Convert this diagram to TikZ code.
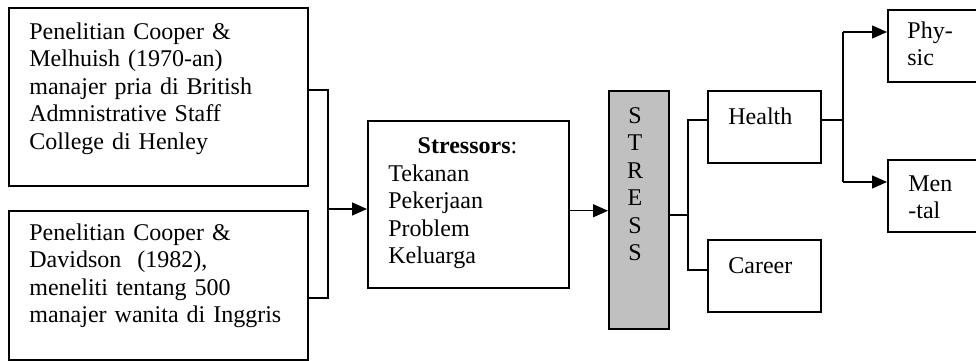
\documentclass[tikz,border=0pt]{standalone}
\usepackage{fontspec}
\setmainfont{Liberation Serif}
\usetikzlibrary{arrows.meta}
\definecolor{stressgray}{RGB}{192,192,192}

\begin{document}
\begin{tikzpicture}[x=0.5pt,y=-0.5pt,
  box/.style={draw,line width=0.75pt,anchor=north west,inner sep=0pt},
  txt/.style={anchor=base west,inner sep=0pt,align=left,font=\fontsize{12}{13.75}\selectfont},
  link/.style={line width=0.7pt},
  arr/.style={link,-{Triangle[length=7.5pt,width=6.5pt]}}]
\path[use as bounding box,clip] (0,0) rectangle (976,360);

\node[box,minimum width=149.5pt,minimum height=89pt] (melhuish) at (8,7) {};
\node[box,minimum width=149.5pt,minimum height=74.5pt] (davidson) at (8,210) {};
\node[box,minimum width=100.5pt,minimum height=83.5pt] (stressors) at (367,120) {};
\node[box,fill=stressgray,minimum width=30pt,minimum height=119pt] (stress) at (608,90) {};
\node[box,minimum width=56.5pt,minimum height=36pt] (health) at (707,90) {};
\node[box,minimum width=56.5pt,minimum height=36pt] (career) at (707,239) {};
\node[box,minimum width=51.5pt,minimum height=36pt] (physic) at (887,9) {};
\node[box,minimum width=51.5pt,minimum height=36pt] (mental) at (887,159) {};

\node[txt,text width=135pt] (melhuishtext) at (29,39) {Penelitian Cooper \&\\ Melhuish (1970-an)\\ manajer pria di British\\ Admnistrative Staff\\ College di Henley};
\node[txt,text width=135pt] (davidsontext) at (29,240) {Penelitian Cooper \&\\ Davidson\ \ (1982),\\ meneliti tentang 500\\ manajer wanita di Inggris};
\node[txt,anchor=base] (stressorshead) at (467.5,153) {\textbf{Stressors}:};
\node[txt,text width=80pt] (stressorslist) at (388,181) {Tekanan\\ Pekerjaan\\ Problem\\ Keluarga};
\node[txt,anchor=base,align=center,text width=12pt] (stresstext) at (635,123) {S\\ T\\ R\\ E\\ S\\ S};
\node[txt] (healthtext) at (728,124) {Health};
\node[txt] (careertext) at (728,273) {Career};
\node[txt,text width=40pt] (physictext) at (907,38) {Phy-\\ sic};
\node[txt,text width=40pt] (mentaltext) at (908,191) {Men\\ -tal};

\coordinate (joinA) at (328,90);
\coordinate (joinB) at (328,298);
\coordinate (joinM) at (328,209);
\draw[link] (joinA -| melhuish.east) -- (joinA) -- (joinB) -- (joinB -| davidson.east);
\draw[arr] (joinM) -- (joinM -| stressors.west);
\draw[arr] ([yshift=-3.25pt]stressors.east) -- ([yshift=-3.25pt]stressors.east -| stress.west);

\coordinate (forkS) at (688,215);
\coordinate (forkH) at (688,120);
\coordinate (forkC) at (688,270);
\draw[link] (forkS -| stress.east) -- (forkS);
\draw[link] (forkH -| health.west) -- (forkH) -- (forkC) -- (forkC -| career.west);

\coordinate (forkR) at (843,120);
\coordinate (forkP) at (843,32);
\coordinate (forkM) at (843,182);
\draw[link] (forkR -| health.east) -- (forkR);
\draw[link] (forkP) -- (forkM);
\draw[arr] (forkP) -- (forkP -| physic.west);
\draw[arr] (forkM) -- (forkM -| mental.west);
\end{tikzpicture}
\end{document}
